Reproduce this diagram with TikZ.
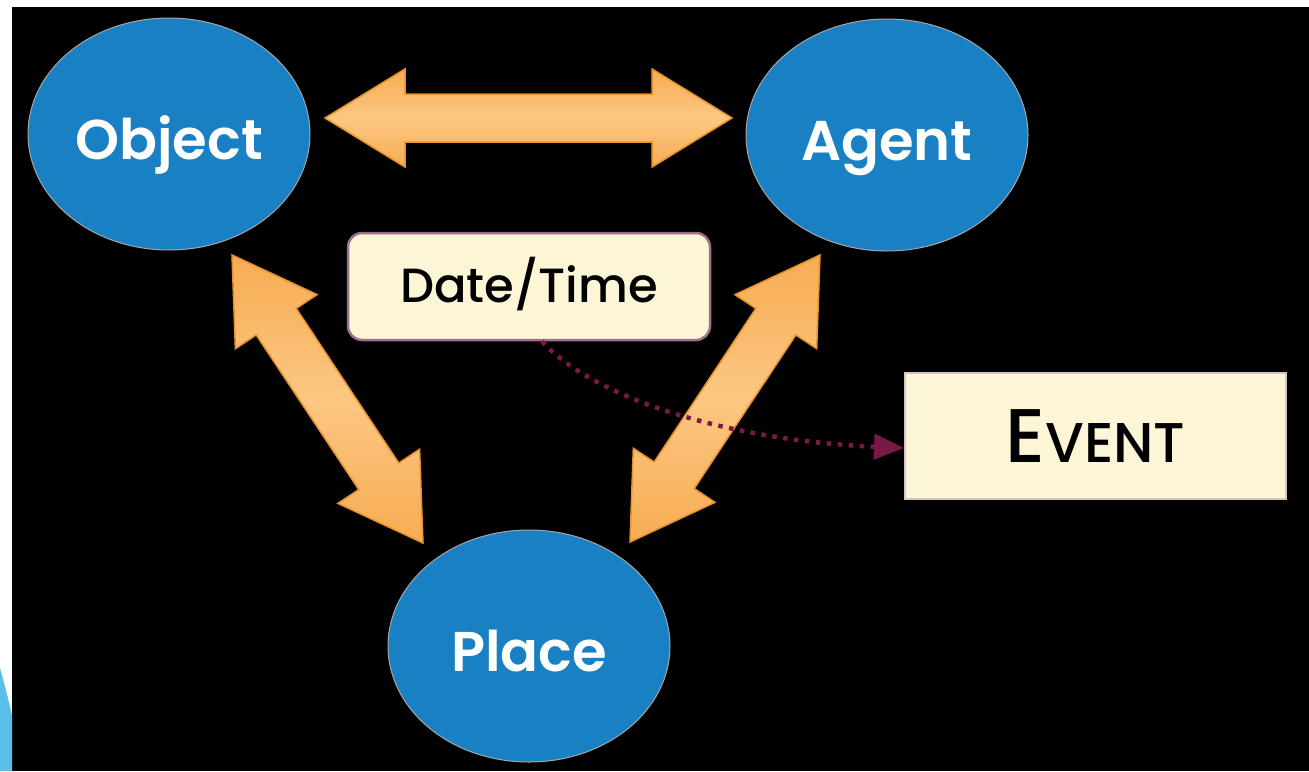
\documentclass[tikz,border=0pt]{standalone}
\usepackage{fontspec}
\setmainfont{Poppins}
\newfontfamily\popsemi{Poppins SemiBold}
\newfontfamily\popmed{Poppins Medium}
\usetikzlibrary{positioning,calc,shapes.geometric,arrows.meta}

\definecolor{ballblue}{HTML}{1A80C4}
\definecolor{arrowfill}{HTML}{F7AC52}
\definecolor{arrowlight}{HTML}{FCC783}
\definecolor{arrowline}{HTML}{E8922E}
\definecolor{cream}{HTML}{FCF5D6}
\definecolor{plum}{HTML}{9E6E8C}
\definecolor{pinkline}{HTML}{DCC0C8}
\definecolor{maroon}{HTML}{7A1848}
\definecolor{cornerblue}{HTML}{5BBFEE}

\tikzset{
  ball/.style={ellipse, fill=ballblue, draw=gray!70, line width=1pt,
    minimum width=282pt, minimum height=232pt, text=white,
    text height=51pt, text depth=0pt,
    font=\fontsize{56}{60}\popsemi},
  bigarrow/.style={top color=arrowfill, bottom color=arrowfill, middle color=arrowlight,
    draw=arrowline, line width=1.5pt, line join=miter},
  datebox/.style={rectangle, rounded corners=14pt, fill=cream, draw=plum, line width=2.5pt,
    minimum width=362pt, minimum height=107pt, text height=31pt, text depth=0pt,
    font=\fontsize{48}{52}\popmed},
  eventbox/.style={rectangle, fill=cream, draw=pinkline, line width=2pt,
    minimum width=381pt, minimum height=126pt, text height=52pt, text depth=0pt},
  dotline/.style={maroon, line width=4.5pt, dash pattern=on 4.5pt off 6.5pt,
    -{Triangle[length=30pt,width=25pt]}}
}

\newcommand\bigarrow[2]{%
  \draw[bigarrow] let \p1=(#1), \p2=(#2),
    \n1={atan2(\y2-\y1,\x2-\x1)}, \n2={veclen(\x2-\x1,\y2-\y1)}, \n3={\n2-80} in
    [shift={(\p1)}, rotate=\n1]
    (0pt,0pt) -- (80pt,49pt) -- (80pt,24pt) -- (\n3,24pt) -- (\n3,49pt) -- (\n2,0pt)
    -- (\n3,-49pt) -- (\n3,-24pt) -- (80pt,-24pt) -- (80pt,-49pt) -- cycle;}

\begin{document}
\begin{tikzpicture}[x=1pt,y=-1pt]
\useasboundingbox (0,0) rectangle (1309,771);
\fill[white] (0,0) rectangle (1309,771);
\fill[black] (12,7) rectangle (1309,771);
\fill[cornerblue] (0,668) .. controls (6,690) .. (12,715) -- (12,771) -- (0,771) -- cycle;

\node[ball] (obj) at (169,134) {Object};
\node[ball] (agt) at (887,135) {Agent};
\node[ball] (plc) at (529,646) {Place};

\coordinate (oa1) at (325,118);
\coordinate (oa2) at (732,118);
\coordinate (op1) at (232,255);
\coordinate (op2) at (423,543);
\coordinate (ap1) at (820,255);
\coordinate (ap2) at (630,542);
\bigarrow{oa1}{oa2}
\bigarrow{op1}{op2}
\bigarrow{ap1}{ap2}

\node[datebox] (dt) at (529,286.5) {Date/Time};
\node[eventbox] (ev) at (1095.5,436) {\popmed\fontsize{76}{80}\selectfont E\fontsize{56}{60}\selectfont VENT};

\draw[dotline] ([xshift=13pt]dt.south) .. controls (590,395) and (720,440) .. ([yshift=-12pt]ev.west);
\end{tikzpicture}
\end{document}
